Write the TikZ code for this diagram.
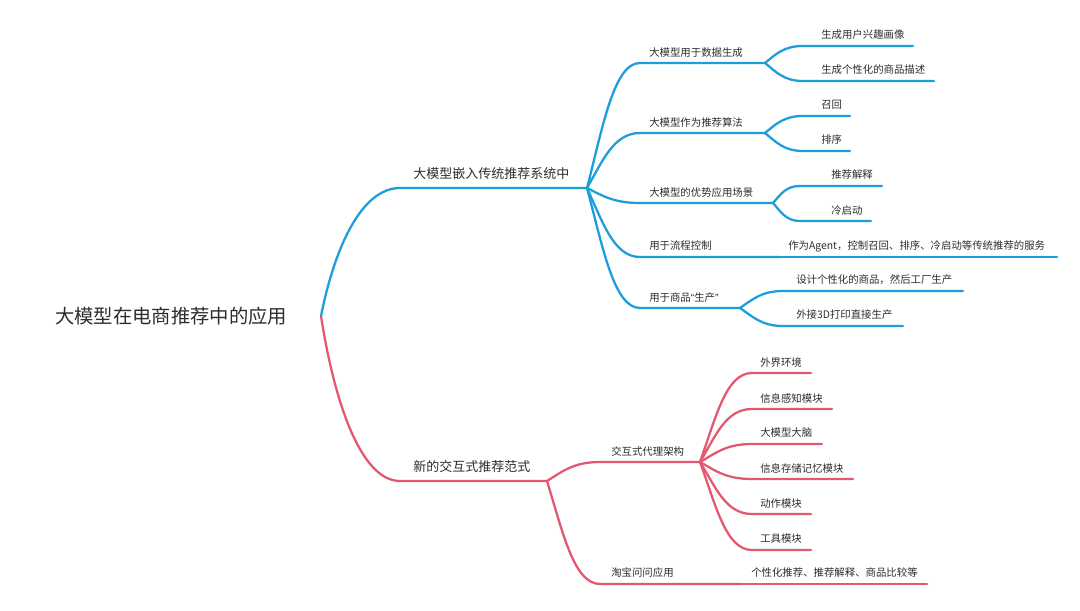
\documentclass[tikz,border=0pt]{standalone}
\usepackage{fontspec}
\setmainfont{Noto Sans CJK SC}
\newfontfamily\latq{Liberation Sans}
\definecolor{mblue}{RGB}{28,158,218}
\definecolor{mred}{RGB}{226,88,112}
\definecolor{tx}{RGB}{45,45,45}
\begin{document}
\begin{tikzpicture}[x=0.75pt,y=-0.75pt,
  bl/.style={draw=mblue,line width=1.7pt,line cap=round,line join=round},
  rd/.style={draw=mred,line width=1.7pt,line cap=round,line join=round},
  lvroot/.style={font=\fontsize{14.5}{16}\selectfont,text=tx,inner sep=0pt,anchor=west},
  lvone/.style={font=\fontsize{9.75}{11}\selectfont,text=tx,inner sep=0pt,anchor=west},
  lvtwo/.style={font=\fontsize{7.8}{9}\selectfont,text=tx,inner sep=0pt,anchor=west}]
\fill[white] (0,0) rectangle (1080,610);
\useasboundingbox (0,0) rectangle (1080,610);

% root
\node[lvroot] (root) at (55,316) {大模型在电商推荐中的应用};
\coordinate (R) at (321,316);

% ---------------- blue branch ----------------
\coordinate (Bs) at (400,188); \coordinate (Bh) at (587,188);
\node[lvone] (tB) at (413,174) {大模型嵌入传统推荐系统中};
\draw[bl] (R) .. controls +(14,-70) and +(-38,0) .. (Bs) -- (Bh);

\coordinate (B1s) at (640,63);  \coordinate (B1h) at (765,63);
\coordinate (B2s) at (640,133); \coordinate (B2h) at (765,133);
\coordinate (B3s) at (640,203); \coordinate (B3h) at (773,203);
\coordinate (B4s) at (640,257); \coordinate (B4h) at (780,257);
\coordinate (B5s) at (640,308); \coordinate (B5h) at (740,308);
\node[lvtwo] (tB1) at (649,53)  {大模型用于数据生成};
\node[lvtwo] (tB2) at (649,123) {大模型作为推荐算法};
\node[lvtwo] (tB3) at (649,193) {大模型的优势应用场景};
\node[lvtwo] (tB4) at (649,246) {用于流程控制};
\node[lvtwo] (tB5) at (649,298) {用于商品{\latq “}生产{\latq ”}};
\draw[bl] (Bh) .. controls +(16,-62) and +(-26,0) .. (B1s) -- (B1h);
\draw[bl] (Bh) .. controls +(16,-28) and +(-26,0) .. (B2s) -- (B2h);
\draw[bl] (Bh) .. controls +(16,8) and +(-26,0) .. (B3s) -- (B3h);
\draw[bl] (Bh) .. controls +(16,35) and +(-26,0) .. (B4s) -- (B4h);
\draw[bl] (Bh) .. controls +(16,60) and +(-26,0) .. (B5s) -- (B5h);

% level 3 blue
\coordinate (B11s) at (803,46);  \coordinate (B11e) at (913,46);
\coordinate (B12s) at (803,81);  \coordinate (B12e) at (934,81);
\coordinate (B21s) at (803,116); \coordinate (B21e) at (850,116);
\coordinate (B22s) at (803,151); \coordinate (B22e) at (850,151);
\coordinate (B31s) at (800,186); \coordinate (B31e) at (882,186);
\coordinate (B32s) at (800,221); \coordinate (B32e) at (871,221);
\coordinate (B41e) at (1057,257);
\coordinate (B51s) at (783,291); \coordinate (B51e) at (963,291);
\coordinate (B52s) at (783,326); \coordinate (B52e) at (903,326);
\node[lvtwo] (tB11) at (821,35)  {生成用户兴趣画像};
\node[lvtwo] (tB12) at (821,70)  {生成个性化的商品描述};
\node[lvtwo] (tB21) at (821,105) {召回};
\node[lvtwo] (tB22) at (821,140) {排序};
\node[lvtwo] (tB31) at (831,175) {推荐解释};
\node[lvtwo] (tB32) at (831,211) {冷启动};
\node[lvtwo] (tB41) at (788,246) {作为Agent，控制召回、排序、冷启动等传统推荐的服务};
\node[lvtwo] (tB51) at (796,280) {设计个性化的商品，然后工厂生产};
\node[lvtwo] (tB52) at (796,315) {外接3D打印直接生产};
\draw[bl] (B1h) .. controls +(11,-9) and +(-19,0) .. (B11s) -- (B11e);
\draw[bl] (B1h) .. controls +(11,9) and +(-19,0) .. (B12s) -- (B12e);
\draw[bl] (B2h) .. controls +(11,-9) and +(-19,0) .. (B21s) -- (B21e);
\draw[bl] (B2h) .. controls +(11,9) and +(-19,0) .. (B22s) -- (B22e);
\draw[bl] (B3h) .. controls +(8,-9) and +(-14,0) .. (B31s) -- (B31e);
\draw[bl] (B3h) .. controls +(8,9) and +(-14,0) .. (B32s) -- (B32e);
\draw[bl] (B4h) -- (B41e);
\draw[bl] (B5h) .. controls +(13,-9) and +(-21,0) .. (B51s) -- (B51e);
\draw[bl] (B5h) .. controls +(13,9) and +(-21,0) .. (B52s) -- (B52e);

% ---------------- red branch ----------------
\coordinate (Ns) at (400,481); \coordinate (Nh) at (547,481);
\node[lvone] (tN) at (413,467) {新的交互式推荐范式};
\draw[rd] (R) .. controls +(14,90) and +(-38,0) .. (Ns) -- (Nh);

\coordinate (N1s) at (600,462); \coordinate (N1h) at (700,462);
\coordinate (N2s) at (600,584); \coordinate (N2h) at (740,584);
\coordinate (N21e) at (927,584);
\node[lvtwo] (tN1) at (611,452) {交互式代理架构};
\node[lvtwo] (tN2) at (611,573) {淘宝问问应用};
\node[lvtwo] (tN21) at (751,573) {个性化推荐、推荐解释、商品比较等};
\draw[rd] (Nh) .. controls +(16,-10) and +(-26,0) .. (N1s) -- (N1h);
\draw[rd] (Nh) .. controls +(16,52) and +(-26,0) .. (N2s) -- (N2h);
\draw[rd] (N2h) -- (N21e);

\coordinate (A1s) at (752,373); \coordinate (A1e) at (811,373);
\coordinate (A2s) at (752,409); \coordinate (A2e) at (832,409);
\coordinate (A3s) at (752,444); \coordinate (A3e) at (822,444);
\coordinate (A4s) at (752,479); \coordinate (A4e) at (853,479);
\coordinate (A5s) at (752,514); \coordinate (A5e) at (811,514);
\coordinate (A6s) at (752,550); \coordinate (A6e) at (811,550);
\node[lvtwo] (tA1) at (760,363) {外界环境};
\node[lvtwo] (tA2) at (760,399) {信息感知模块};
\node[lvtwo] (tA3) at (760,433) {大模型大脑};
\node[lvtwo] (tA4) at (760,469) {信息存储记忆模块};
\node[lvtwo] (tA5) at (760,504) {动作模块};
\node[lvtwo] (tA6) at (760,539) {工具模块};
\draw[rd] (N1h) .. controls +(16,-45) and +(-26,0) .. (A1s) -- (A1e);
\draw[rd] (N1h) .. controls +(16,-27) and +(-26,0) .. (A2s) -- (A2e);
\draw[rd] (N1h) .. controls +(16,-9) and +(-26,0) .. (A3s) -- (A3e);
\draw[rd] (N1h) .. controls +(16,9) and +(-26,0) .. (A4s) -- (A4e);
\draw[rd] (N1h) .. controls +(16,26) and +(-26,0) .. (A5s) -- (A5e);
\draw[rd] (N1h) .. controls +(16,44) and +(-26,0) .. (A6s) -- (A6e);
\end{tikzpicture}
\end{document}
